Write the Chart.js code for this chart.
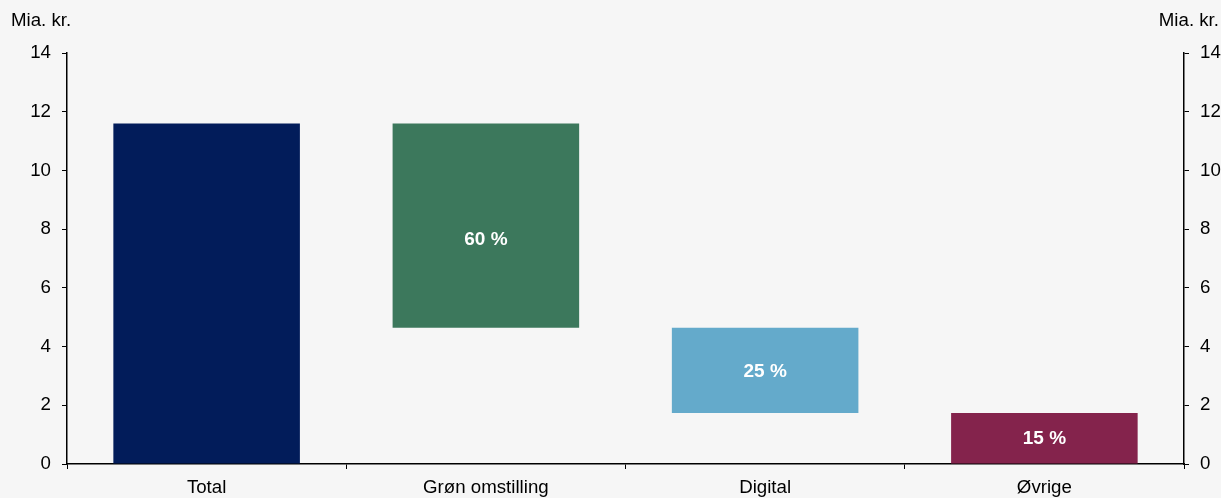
<!DOCTYPE html>
<html>
<head>
<meta charset="utf-8">
<script src="https://cdn.jsdelivr.net/npm/chart.js@4.4.1/dist/chart.umd.min.js"></script>
<style>
    html, body { margin: 0; padding: 0; background: #f6f6f6; }
    #wrap { width: 1221px; height: 498px; }
</style>
</head>
<body>
<div id="wrap"><canvas id="waterfallChart"></canvas></div>
<script>
// Data
const categories = ['Total', 'Grøn omstilling', 'Digital', 'Øvrige'];
const barStart = [0, 4.64, 1.74, 0];
const barEnd = [11.6, 11.6, 4.64, 1.74];
const shareLabels = ['', '60 %', '25 %', '15 %'];
const yTicks = [0, 2, 4, 6, 8, 10, 12, 14];
const unitLabel = 'Mia. kr.';

const barColors = ['#021c5a', '#3c785c', '#64aacb', '#84234c'];
const labelNudge = [0, 14, 1, 1]; // the 60 % label sits below the bar middle
const fontFamily = '"Liberation Sans", Arial, sans-serif';

Chart.defaults.font.family = fontFamily;
Chart.defaults.font.size = 18.7;
Chart.defaults.color = '#000';

// Background + unit labels + percentage labels
const decorPlugin = {
    id: 'decor',
    beforeDraw(chart) {
        const ctx = chart.ctx;
        ctx.save();
        ctx.fillStyle = '#f6f6f6';
        ctx.fillRect(0, 0, chart.width, chart.height);
        ctx.restore();
    },
    afterDatasetsDraw(chart) {
        const ctx = chart.ctx;
        ctx.save();
        ctx.font = '18.7px ' + fontFamily;
        ctx.fillStyle = '#000';
        ctx.textBaseline = 'alphabetic';
        ctx.textAlign = 'left';
        ctx.fillText(unitLabel, 11, 26);
        ctx.textAlign = 'right';
        ctx.fillText(unitLabel, 1219, 26);

        const meta = chart.getDatasetMeta(0);
        ctx.font = 'bold 19px ' + fontFamily;
        ctx.fillStyle = '#fff';
        ctx.textAlign = 'center';
        ctx.textBaseline = 'middle';
        meta.data.forEach((bar, i) => {
            if (!shareLabels[i]) return;
            const mid = (bar.y + bar.base) / 2;
            ctx.fillText(shareLabels[i], bar.x, mid + labelNudge[i]);
        });
        ctx.restore();
    }
};

function yAxis(position, width) {
    return {
        position: position,
        min: 0,
        max: 14,
        afterBuildTicks: (scale) => {
            scale.ticks = yTicks.map(v => ({ value: v }));
        },
        afterFit: (scale) => { scale.width = width; },
        grid: {
            drawOnChartArea: false,
            drawTicks: true,
            tickLength: 5,
            tickColor: '#000'
        },
        border: { display: true, color: '#000', width: 1.5 },
        ticks: { padding: 11, color: '#000' }
    };
}

new Chart(document.getElementById('waterfallChart'), {
    type: 'bar',
    data: {
        labels: categories,
        datasets: [{
            data: barStart.map((s, i) => [s, barEnd[i]]),
            backgroundColor: barColors,
            borderWidth: 0,
            barPercentage: 0.668,
            categoryPercentage: 1
        }]
    },
    options: {
        responsive: true,
        maintainAspectRatio: false,
        animation: false,
        layout: { padding: { top: 53, left: 0, right: 0, bottom: 0 } },
        plugins: {
            legend: { display: false },
            tooltip: { enabled: false }
        },
        scales: {
            x: {
                afterFit: (scale) => { scale.height = 34; },
                grid: {
                    offset: true,
                    drawOnChartArea: false,
                    drawTicks: true,
                    tickLength: 5,
                    tickColor: '#000'
                },
                border: { display: true, color: '#000', width: 1.5 },
                ticks: { padding: 8, color: '#000', maxRotation: 0 }
            },
            y: yAxis('left', 67),
            y2: yAxis('right', 37)
        }
    },
    plugins: [decorPlugin]
});
</script>
</body>
</html>
